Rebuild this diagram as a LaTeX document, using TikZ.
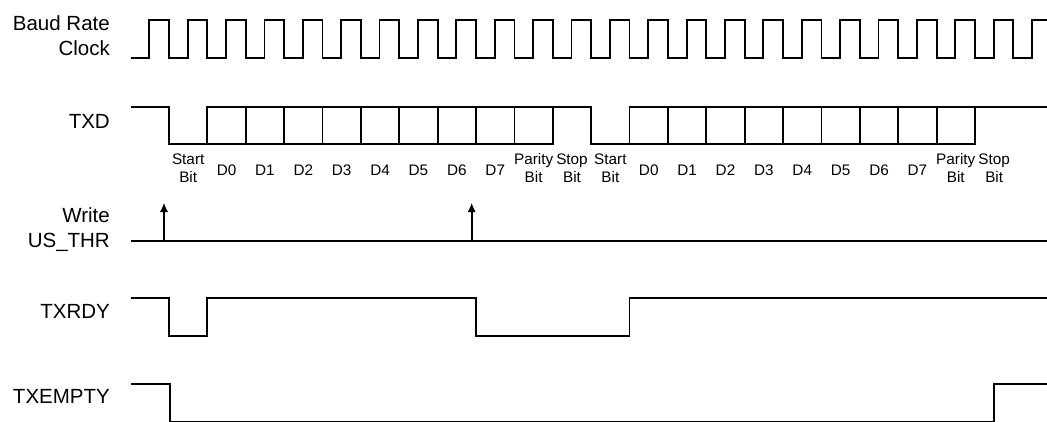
\documentclass[tikz,border=0pt]{standalone}
\usepackage{fontspec}
\setmainfont{Liberation Sans}
\usetikzlibrary{arrows.meta}
\begin{document}
\begin{tikzpicture}[x=1pt,y=-1pt,
  wave/.style={line width=1.8pt, line join=miter, line cap=butt},
  sig/.style={font=\fontsize{20.5}{25}\selectfont, anchor=east, align=right, inner sep=0pt},
  bitlab/.style={font=\fontsize{15.3}{18}\selectfont, align=center, inner sep=0pt},
  evt/.style={line width=1.8pt, -{Latex[length=9.5pt,width=8.5pt]}}]
\useasboundingbox (0,0) rectangle (1047,422);
\def\P{38.38}
\def\X{169}
% signal names
\node[sig] (clk) at (110,35.4) {Baud Rate\\Clock};
\node[sig] (txd) at (110,121.7) {TXD};
\node[sig] (wr) at (110,229.6) {Write\\US\_THR};
\node[sig] (rdy) at (110,311.7) {TXRDY};
\node[sig] (emp) at (110,396.7) {TXEMPTY};
% clock
\draw[wave] (131,58.3)
  \foreach \k in {0,...,22} {
    -- ({\X+\k*\P-19.7},58.3) -- ({\X+\k*\P-19.7},20) -- ({\X+\k*\P},20) -- ({\X+\k*\P},58.3)
  }
  -- ({\X+23*\P-19.7},58.3) -- ({\X+23*\P-19.7},20) -- (1047,20);
% TXD
\draw[wave] (131,106.7) -- (\X,106.7) -- (\X,144.3) -- ({\X+\P},144.3);
\foreach \k in {1,...,9,12,13,...,20}
  \draw[wave] ({\X+\k*\P},106.7) rectangle ({\X+(\k+1)*\P},144.3);
\draw[wave] ({\X+10*\P},106.7) -- ({\X+11*\P},106.7) -- ({\X+11*\P},144.3) -- ({\X+12*\P},144.3);
\draw[wave] ({\X+21*\P},106.7) -- (1047,106.7);
% bit labels
\foreach \f/\o in {0/0, 1/11} {
  \node[bitlab] (s\f) at ({\X+(\o+0.5)*\P},168) {Start\\Bit};
  \foreach \d in {0,...,7}
    \node[bitlab] (d\f\d) at ({\X+(\o+1.5+\d)*\P},170) {D\d};
  \node[bitlab] (p\f) at ({\X+(\o+9.5)*\P},168) {Parity\\Bit};
  \node[bitlab] (t\f) at ({\X+(\o+10.5)*\P},168) {Stop\\Bit};
}
% Write US_THR
\draw[wave] (131,240.7) -- (1047,240.7);
\draw[evt] (164,240.7) -- (164,202.7);
\draw[evt] (471.7,240.7) -- (471.7,202.7);
% TXRDY
\draw[wave] (131,297.7) -- (\X,297.7) -- (\X,336) -- ({\X+\P},336) -- ({\X+\P},297.7)
  -- ({\X+8*\P},297.7) -- ({\X+8*\P},336) -- ({\X+12*\P},336) -- ({\X+12*\P},297.7) -- (1047,297.7);
% TXEMPTY
\draw[wave] (131,384.3) -- (169.7,384.3) -- (169.7,421.5) -- (994.3,421.5) -- (994.3,384.3) -- (1047,384.3);
\end{tikzpicture}
\end{document}
